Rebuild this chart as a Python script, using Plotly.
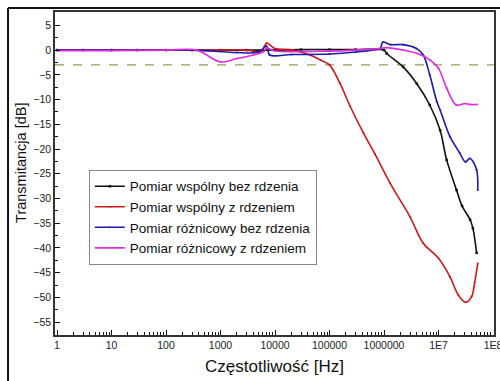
import plotly.graph_objects as go

# ---------------- data ----------------
black_f = [1, 3, 10, 30, 100, 300, 1000, 3000, 1e4, 3e4, 1e5, 3e5, 1e6,
           1.12e6, 2.24e6, 4.0e6, 6.9e6, 1.07e7, 1.41e7, 2.14e7, 2.7e7, 3.8e7, 4.27e7, 5.0e7]
black_db = [0, 0, 0, 0, 0, 0, 0, 0, 0, 0.1, 0.1, 0.1, 0,
            -0.7, -3.4, -6.8, -11.1, -16.2, -22.2, -28.3, -31.5, -34.3, -36.0, -41.0]

red_f = [1, 3, 10, 30, 100, 300, 1000, 3000, 5500, 7000, 1e4, 1.9e4, 4.4e4, 6.8e4, 1e5,
         1.55e5, 2.4e5, 4.2e5, 6.8e5, 1.29e6, 3.0e6, 5.2e6, 1e7, 1.62e7, 2.3e7, 3.16e7,
         4.07e7, 4.6e7, 5.25e7]
red_db = [0, 0, 0, 0, 0, 0, 0, 0, -0.3, 1.4, 0.3, 0.1, -1.0, -2.0, -3.0,
          -6.7, -11.4, -16.8, -21.0, -26.9, -33.7, -39.0, -42.1, -45.8, -49.5, -51.0,
          -49.8, -47.0, -43.1]

blue_f = [1, 3, 10, 30, 100, 300, 1000, 2000, 5000, 7000, 8000, 2e4, 1e5, 3e5, 7e5,
          8.5e5, 9.5e5, 1.32e6, 2.24e6, 3.98e6, 5.25e6, 6.9e6, 9.3e6, 1.07e7, 1.62e7,
          2.45e7, 3.1e7, 3.8e7, 5.0e7, 5.25e7]
blue_db = [0, 0, 0, 0, 0, 0, -0.3, -0.5, -0.4, 0.8, -1.0, -0.9, -0.8, -0.4, 0.1,
           0.3, 1.6, 1.1, 1.1, 0.3, -1.0, -5.0, -10.4, -12.1, -17.5,
           -20.8, -22.6, -21.9, -24.2, -28.3]

magenta_f = [1, 10, 100, 360, 1000, 2000, 4000, 6200, 7000, 1e4, 1e5, 3e5, 8e5,
             1.12e6, 2.24e6, 4.6e6, 6.9e6, 1e7, 1.41e7, 2.1e7, 3.1e7, 3.7e7, 5.1e7]
magenta_db = [-0.1, -0.1, 0, 0, -2.4, -1.7, -1.0, -0.3, 0.4, -0.2, -0.2, 0, 0.3,
              0.5, 0, -0.9, -2.0, -3.7, -7.7, -11.1, -10.8, -11.0, -11.0]

series_names = ["Pomiar wspólny bez rdzenia", "Pomiar wspólny z rdzeniem",
                "Pomiar różnicowy bez rdzenia", "Pomiar różnicowy z rdzeniem"]

x_tickvals = [1, 10, 100, 1000, 1e4, 1e5, 1e6, 1e7, 1e8]
x_ticktext = ["1", "10", "100", "1000", "10000", "100000", "1000000", "1E7", "1E8"]
x_minor_tickvals = [d * v for v in x_tickvals[:-1] for d in range(2, 10)]
y_tickvals = list(range(-55, 10, 5))
y_minor_tickvals = [v + 2.5 for v in y_tickvals[:-1]] + [-57.5]

THRESHOLD = -3
THRESHOLD_LABEL = "-3 dB"
THRESHOLD_LABEL_X = 4.6e7

X_TITLE = "Częstotliwość [Hz]"
Y_TITLE = "Transmitancja [dB]"

# ---------------- figure ----------------
FONT = "Arial, Liberation Sans, sans-serif"
colors = ["#111111", "#cc1a1a", "#1c1caa", "#e02ae0"]
symbols = ["square", "triangle-down", "triangle-up", "triangle-down"]
series = [(black_f, black_db), (red_f, red_db), (blue_f, blue_db), (magenta_f, magenta_db)]

fig = go.Figure()

fig.add_hline(y=THRESHOLD, line=dict(color="#9a9a55", width=1.3, dash="dash"), layer="below")

for (fx, fy), name, c, s in zip(series, series_names, colors, symbols):
    fig.add_trace(go.Scatter(
        x=fx, y=fy, name=name, mode="lines+markers",
        line=dict(color=c, width=1.6, shape="spline", smoothing=0.9),
        marker=dict(color=c, size=2.5, symbol=s),
    ))

fig.add_annotation(x=THRESHOLD_LABEL_X, y=THRESHOLD, text=THRESHOLD_LABEL, showarrow=False,
                   xref="x", yref="y", yanchor="bottom", yshift=1,
                   font=dict(family=FONT, size=8, color="#9a9a55"))

# y-axis title (placed as in the reference, slightly above the plot centre)
fig.add_annotation(text=Y_TITLE, textangle=-90, showarrow=False,
                   xref="paper", yref="paper", x=-0.078, y=0.532,
                   xanchor="center", yanchor="middle",
                   font=dict(family=FONT, size=14.5, color="#111111"))

# outer frame of the picture (only its left and top edges are inside the image)
FRAME = dict(color="#111111", width=2)
fig.add_shape(type="line", xref="paper", yref="paper",
              x0=-0.107, x1=-0.107, y0=-0.5, y1=1.0124, line=FRAME, layer="above")
fig.add_shape(type="line", xref="paper", yref="paper",
              x0=-0.107, x1=1.4, y0=1.0124, y1=1.0124, line=FRAME, layer="above")

fig.update_layout(
    width=500, height=381,
    margin=dict(l=55, r=6, t=12, b=46, autoexpand=False),
    paper_bgcolor="white", plot_bgcolor="white",
    font=dict(family=FONT, color="#222222"),
    showlegend=True,
    legend=dict(
        x=0.077, y=0.364, xanchor="left", yanchor="middle",
        bgcolor="white", bordercolor="#888888", borderwidth=1,
        font=dict(family=FONT, size=13.5, color="#111111"),
        itemwidth=30, tracegroupgap=0,
    ),
)

fig.update_xaxes(
    type="log", range=[-0.037, 8.018], automargin=False,
    tickmode="array", tickvals=x_tickvals, ticktext=x_ticktext,
    ticklabeloverflow="allow",
    tickfont=dict(family=FONT, size=10.5, color="#222222"),
    ticks="inside", ticklen=5, tickwidth=1.2, tickcolor="#111111",
    minor=dict(tickmode="array", tickvals=x_minor_tickvals,
               ticks="inside", ticklen=3.5, tickwidth=1, tickcolor="#111111", showgrid=False),
    showline=True, linecolor="#333333", linewidth=1.5, mirror=True,
    showgrid=False, zeroline=False,
    title=dict(text=X_TITLE, font=dict(family=FONT, size=17, color="#111111"), standoff=10),
)
fig.update_yaxes(
    range=[-57.6, 7.7], automargin=False,
    tickmode="array", tickvals=y_tickvals,
    tickfont=dict(family=FONT, size=10.5, color="#222222"),
    ticks="inside", ticklen=5, tickwidth=1.2, tickcolor="#111111",
    minor=dict(tickmode="array", tickvals=y_minor_tickvals,
               ticks="inside", ticklen=3.5, tickwidth=1, tickcolor="#111111", showgrid=False),
    showline=True, linecolor="#333333", linewidth=1.5, mirror=True,
    showgrid=False, zeroline=False,
)

fig.write_html("out.html")
